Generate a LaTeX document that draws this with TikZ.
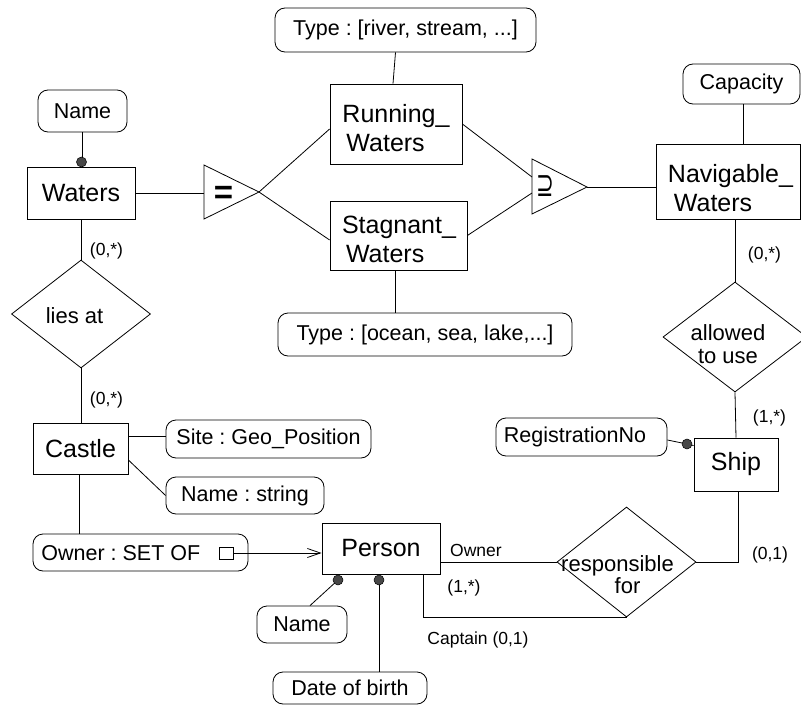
\documentclass[tikz,border=0pt]{standalone}
\usepackage{fontspec}
\setmainfont{Liberation Sans}
\newfontfamily\symfont{DejaVu Sans}
\usetikzlibrary{shapes.geometric,arrows.meta,calc}
\newcommand\entfont{\fontsize{25}{29}\selectfont}
\newcommand\attrfont{\fontsize{21.5}{24}\selectfont}
\newcommand\relfont{\fontsize{22}{22.5}\selectfont}
\newcommand\lblfont{\fontsize{17.5}{20}\selectfont}
\frenchspacing
\begin{document}
\begin{tikzpicture}[x=1pt,y=-1pt,line width=0.8pt,
  ent/.style={draw,inner sep=0pt,font=\entfont},
  enttext/.style={inner sep=0pt,font=\entfont,align=left},
  attr/.style={draw,rounded corners=10pt,inner sep=0pt,font=\attrfont},
  attrtext/.style={inner sep=0pt,font=\attrfont},
  rel/.style={draw,diamond,inner sep=0pt},
  reltext/.style={inner sep=0pt,font=\relfont,align=center},
  lbl/.style={inner sep=0pt,font=\lblfont},
  dotm/.style={circle,fill=black!72,draw=black,line width=0.5pt,inner sep=0pt,minimum size=10pt}]
\useasboundingbox (0,0) rectangle (801,709);

% entities
\node[ent,minimum width=108pt,minimum height=52pt] (waters) at (81,193) {Waters};
\node[ent,minimum width=132pt,minimum height=80pt] (running) at (396,124) {};
\node[enttext] (runningT) at (396,128.5) {Running\_\\\hspace*{4pt}Waters};
\node[ent,minimum width=137pt,minimum height=69pt] (stagnant) at (398.5,235.5) {};
\node[enttext] (stagnantT) at (399,239.5) {Stagnant\_\\\hspace*{4pt}Waters};
\node[ent,minimum width=144.5pt,minimum height=75pt] (navig) at (728.25,181.5) {};
\node[enttext] (navigT) at (730.5,188.5) {Navigable\_\\\hspace*{6pt}Waters};
\node[ent,minimum width=84pt,minimum height=53pt] (ship) at (736,464.5) {Ship};
\node[ent,minimum width=118pt,minimum height=51pt] (person) at (381,548.5) {Person};
\node[ent,minimum width=95pt,minimum height=51pt] (castle) at (80.5,448.5) {Castle};

% attributes
\node[attr,minimum width=89pt,minimum height=42pt] (nameW) at (82.5,111) {Name};
\node[attr,minimum width=261pt,minimum height=44pt] (typeR) at (405.5,30) {Type : [river, stream, ...]};
\node[attr,minimum width=294pt,minimum height=43pt] (typeS) at (425,334.5) {Type : [ocean, sea, lake,...]};
\node[attr,minimum width=117pt,minimum height=40pt] (capacity) at (741.5,84) {Capacity};
\node[attr,minimum width=171pt,minimum height=38pt] (regno) at (581.5,437) {};
\node[attrtext] (regnoT) at (575,437) {RegistrationNo};
\node[attr,minimum width=90pt,minimum height=37pt] (nameP) at (302,624.5) {Name};
\node[attr,minimum width=154pt,minimum height=32pt] (dob) at (350,688) {Date of birth};
\node[attr,minimum width=205pt,minimum height=38pt] (site) at (268.5,439) {Site : Geo\_Position};
\node[attr,minimum width=158pt,minimum height=37pt] (nameC) at (245,495.5) {Name : string};
\node[attr,minimum width=215pt,minimum height=37pt] (owner) at (140.5,552.5) {};
\node[attrtext,anchor=west] (ownerT) at (41,553) {Owner : SET OF};
\node[draw,inner sep=0pt,minimum width=14pt,minimum height=12pt] (ownerSq) at (226,553) {};

% relationships
\node[rel,minimum width=139pt,minimum height=108pt] (liesat) at (81,314) {};
\node[reltext] (liesatT) at (74.5,315.5) {lies at};
\node[rel,minimum width=144pt,minimum height=110pt] (allowed) at (735,337) {};
\node[reltext] (allowedT) at (728,344) {allowed\\to use};
\node[rel,minimum width=139pt,minimum height=110pt] (resp) at (626.5,562) {};
\node[reltext] (respT1) at (617.5,566) {responsible};
\node[reltext] (respT2) at (627.5,586) {for};

% generalisation triangles
\coordinate (eqTop) at (204,165);
\coordinate (eqBot) at (204,219);
\coordinate (eqApex) at (259,192);
\coordinate (eqIn) at (204,193);
\draw (eqTop) -- (eqApex) -- (eqBot) -- cycle;
\node[inner sep=0pt,font=\bfseries\fontsize{33}{33}\selectfont] (eqS) at (223.5,194.5) {=};
\coordinate (supTop) at (532,159);
\coordinate (supBot) at (532,214);
\coordinate (supApex) at (587,187);
\coordinate (supInU) at (532,177);
\coordinate (supInL) at (532,193);
\draw (supTop) -- (supApex) -- (supBot) -- cycle;
\node[inner sep=0pt,font=\symfont\fontsize{34}{34}\selectfont,xscale=0.62] (supS) at (545,186) {⊇};

% connectors
\draw (nameW.south) -- (nameW.south |- waters.north);
\draw (waters.east) -- (eqIn);
\draw (eqApex) -- ([yshift=-5pt]running.west);
\draw (eqApex) -- ([yshift=-4.5pt]stagnant.west);
\draw (running.east) -- (supInU);
\draw (stagnant.east) -- (supInL);
\draw (supApex) -- (supApex -| navig.west);
\draw ([xshift=-10pt]typeR.south) -- ([xshift=-3pt]running.north);
\draw ([xshift=-3.5pt]stagnant.south) -- ([xshift=-3.5pt]stagnant.south |- typeS.north);
\draw ([xshift=1.5pt]capacity.south) -- ([xshift=1.5pt]capacity.south |- navig.north);
\draw (allowed.north |- navig.south) -- (allowed.north);
\draw (allowed.south) -- ([xshift=1pt]allowed.south |- ship.north);
\coordinate (dotRc) at (687,444);
\draw ([yshift=-3pt]regno.east) -- (dotRc) -- ([yshift=-8pt]ship.north west);
\draw ([xshift=2pt]ship.south) |- (resp.east);
\draw (resp.west -| person.east) -- (resp.west);
\draw ([xshift=-17pt]person.south east) |- (resp.south);
\coordinate (dotP1c) at (338,580);
\coordinate (dotP2c) at (379,580);
\draw ([xshift=8pt]nameP.north) -- (dotP1c);
\draw (dotP2c) -- (dotP2c |- dob.north);
\draw (waters.south) -- (liesat.north);
\draw (liesat.south) -- (liesat.south |- castle.north);
\draw ([yshift=3pt]site.west -| castle.east) -- ([yshift=3pt]site.west);
\draw ([yshift=-11.5pt]castle.east) -- (nameC.west);
\draw ([xshift=-1.5pt]castle.south) -- ([xshift=-1.5pt]castle.south |- owner.north);
\draw[-{Straight Barb[length=13pt,width=9pt]}] (ownerSq.east) -- (ownerSq.east -| person.west);

% key dots
\node[dotm] (dotW) at (81.5,162) {};
\node[dotm] (dotR) at (dotRc) {};
\node[dotm] (dotP1) at (dotP1c) {};
\node[dotm] (dotP2) at (dotP2c) {};

% cardinality labels
\node[lbl] (lW) at (106.5,251) {(0,*)};
\node[lbl] (lC) at (106.5,400) {(0,*)};
\node[lbl] (lN) at (764.5,255) {(0,*)};
\node[lbl] (lS1) at (769.5,418) {(1,*)};
\node[lbl] (lS2) at (770,555) {(0,1)};
\node[lbl] (lOwner) at (476,550) {Owner};
\node[lbl] (lP) at (464,588) {(1,*)};
\node[lbl] (lCapt) at (478,640) {Captain (0,1)};
\end{tikzpicture}
\end{document}
